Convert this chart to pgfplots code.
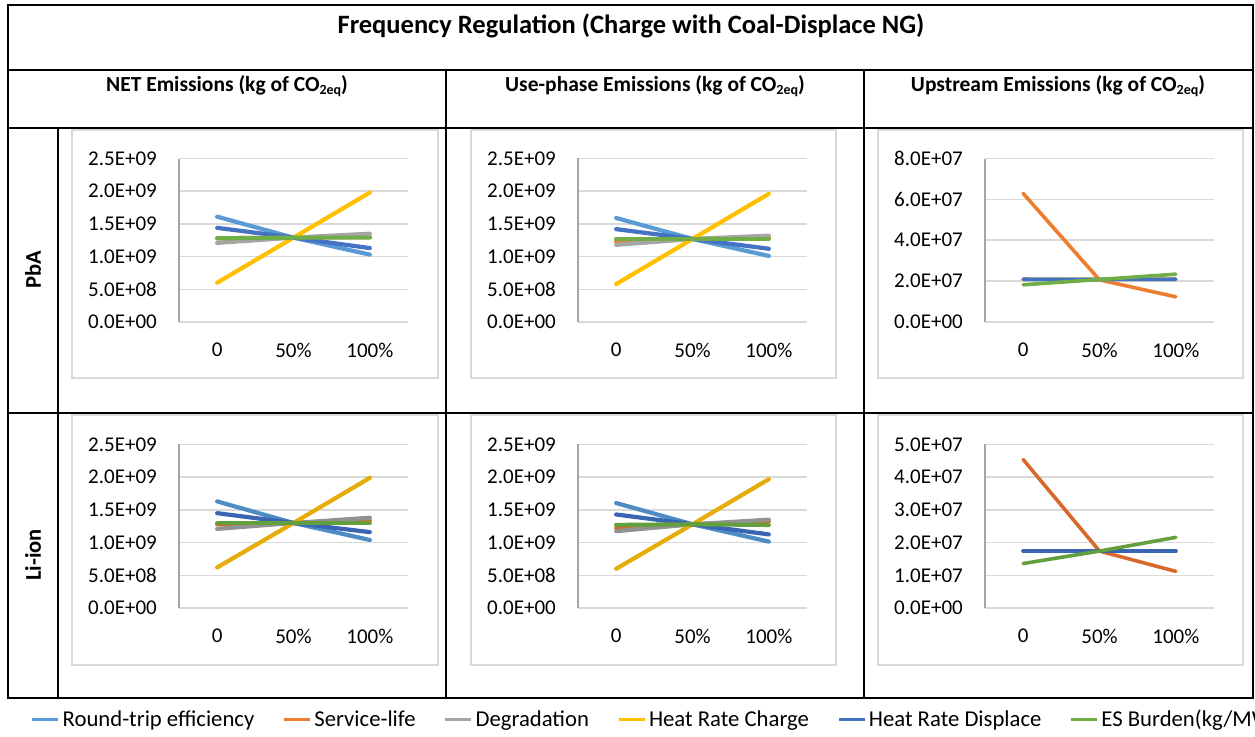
\documentclass[border=0pt]{standalone}
\usepackage{fontspec}
\setmainfont{Carlito}
\usepackage{pgfplots}
\usepackage{pgfplotstable}
\pgfplotsset{compat=1.18}

\definecolor{rtA}{HTML}{5B9BD5}
\definecolor{slA}{HTML}{ED7D31}
\definecolor{dgA}{HTML}{A5A5A5}
\definecolor{hcA}{HTML}{FFC000}
\definecolor{hdA}{HTML}{4472C4}
\definecolor{esA}{HTML}{70AD47}
\definecolor{rtB}{HTML}{4E8CC6}
\definecolor{slB}{HTML}{D8692A}
\definecolor{dgB}{HTML}{929292}
\definecolor{hcB}{HTML}{E5AC0A}
\definecolor{hdB}{HTML}{3A65B3}
\definecolor{esB}{HTML}{63A03D}
\definecolor{gridc}{HTML}{D9D9D9}
\definecolor{axisc}{HTML}{A6A6A6}
\definecolor{framec}{HTML}{D9D9D9}

% PbA, NET emissions (kg CO2eq)
\pgfplotstableread{
x rt sl dg hc hd es
0 1.61e9 1.28e9 1.21e9 0.60e9 1.44e9 1.28e9
1 1.29e9 1.29e9 1.29e9 1.29e9 1.29e9 1.29e9
2 1.03e9 1.30e9 1.35e9 1.98e9 1.13e9 1.29e9
}\pbanet
% PbA, use-phase emissions
\pgfplotstableread{
x rt sl dg hc hd es
0 1.59e9 1.23e9 1.18e9 0.58e9 1.42e9 1.27e9
1 1.27e9 1.27e9 1.27e9 1.27e9 1.27e9 1.27e9
2 1.01e9 1.29e9 1.32e9 1.96e9 1.12e9 1.27e9
}\pbause
% PbA, upstream emissions
\pgfplotstableread{
x rt sl dg hc hd es
0 2.09e7 6.29e7 2.09e7 2.09e7 2.09e7 1.82e7
1 2.08e7 2.06e7 2.08e7 2.08e7 2.08e7 2.08e7
2 2.09e7 1.23e7 2.09e7 2.09e7 2.09e7 2.34e7
}\pbaup
% Li-ion, NET emissions
\pgfplotstableread{
x rt sl dg hc hd es
0 1.63e9 1.28e9 1.21e9 0.62e9 1.45e9 1.30e9
1 1.30e9 1.30e9 1.30e9 1.30e9 1.30e9 1.30e9
2 1.04e9 1.34e9 1.38e9 1.99e9 1.16e9 1.30e9
}\linet
% Li-ion, use-phase emissions
\pgfplotstableread{
x rt sl dg hc hd es
0 1.605e9 1.225e9 1.175e9 0.60e9 1.43e9 1.27e9
1 1.28e9 1.28e9 1.28e9 1.28e9 1.28e9 1.28e9
2 1.015e9 1.325e9 1.35e9 1.97e9 1.125e9 1.27e9
}\liuse
% Li-ion, upstream emissions
\pgfplotstableread{
x rt sl dg hc hd es
0 1.74e7 4.54e7 1.74e7 1.74e7 1.74e7 1.36e7
1 1.74e7 1.74e7 1.74e7 1.74e7 1.74e7 1.74e7
2 1.74e7 1.12e7 1.74e7 1.74e7 1.74e7 2.16e7
}\liup

\newcommand{\sixplots}[2]{%
  \addplot[rt#2] table[x=x,y=rt]{#1};
  \addplot[sl#2] table[x=x,y=sl]{#1};
  \addplot[dg#2] table[x=x,y=dg]{#1};
  \addplot[hc#2] table[x=x,y=hc]{#1};
  \addplot[hd#2] table[x=x,y=hd]{#1};
  \addplot[es#2] table[x=x,y=es]{#1};
}

\pgfplotsset{
  panel/.style={
    scale only axis, width=229pt, height=163.5pt, anchor=south west,
    xmin=-0.5, xmax=2.5, xtick={0,1,2}, xticklabels={0,50\%,100\%},
    ymin=0, scaled y ticks=false,
    axis line style={draw=none},
    major tick length=0pt,
    ymajorgrids, grid style={color=gridc, line width=1.5pt},
    extra x ticks={-0.5}, extra x tick labels={},
    extra x tick style={grid=major, major grid style={color=axisc, line width=1.5pt}},
    tick label style={font=\fontsize{21}{24}\selectfont, inner sep=0pt},
    yticklabel shift=22pt, xticklabel shift=21pt,
    clip=false,
    every axis plot/.append style={line width=4.2pt, line cap=round, mark=none},
  },
  bigy/.style={ymax=2.5e9, ytick={0,5e8,1e9,1.5e9,2e9,2.5e9},
    yticklabels={0.0E+00,5.0E+08,1.0E+09,1.5E+09,2.0E+09,2.5E+09}},
}

\begin{document}
\begin{tikzpicture}[x=1pt,y=1pt]
\path[use as bounding box] (0,0) rectangle (1255,736);

% chart frames
\foreach \xa/\xb in {72/438, 471/836, 878/1243}{
  \draw[framec, line width=1.5pt] (\xa,358) rectangle (\xb,606);
  \draw[framec, line width=1.5pt] (\xa,71) rectangle (\xb,321);
}

% PbA NET
\begin{axis}[panel, bigy, at={(179pt,414pt)},
  legend columns=6,
  legend style={at={(axis description cs:-0.6463,-2.428)}, anchor=west,
    draw=none, fill=none, inner sep=0pt,
    font=\fontsize{22.7}{26}\selectfont,
    nodes={inner sep=0pt},
    /tikz/every odd column/.append style={column sep=3pt},
    /tikz/every even column/.append style={column sep=28.5pt}},
  legend image code/.code={\draw[#1, line width=2.5pt, line cap=butt] (0pt,-0.5pt) -- (26pt,-0.5pt);},
  legend entries={Round-trip efficiency, Service-life, Degradation, Heat Rate Charge, Heat Rate Displace, ES Burden(kg/MWh)},
]
\sixplots{\pbanet}{A}
\end{axis}

% PbA use-phase
\begin{axis}[panel, bigy, at={(578pt,414pt)}]
\sixplots{\pbause}{A}
\end{axis}

% PbA upstream
\begin{axis}[panel, at={(985pt,414pt)}, ymax=8e7, ytick={0,2e7,4e7,6e7,8e7},
  yticklabels={0.0E+00,2.0E+07,4.0E+07,6.0E+07,8.0E+07},
  every axis plot/.append style={line width=3.6pt}]
\sixplots{\pbaup}{A}
\end{axis}

% Li-ion NET
\begin{axis}[panel, bigy, at={(179pt,128pt)}]
\sixplots{\linet}{B}
\end{axis}

% Li-ion use-phase
\begin{axis}[panel, bigy, at={(578pt,128pt)}]
\sixplots{\liuse}{B}
\end{axis}

% Li-ion upstream
\begin{axis}[panel, at={(985pt,128pt)}, ymax=5e7, ytick={0,1e7,2e7,3e7,4e7,5e7},
  yticklabels={0.0E+00,1.0E+07,2.0E+07,3.0E+07,4.0E+07,5.0E+07},
  every axis plot/.append style={line width=3.6pt}]
\sixplots{\liup}{B}
\end{axis}

% table lines
\draw[line width=2pt] (8,38) rectangle (1253,731);
\draw[line width=2pt] (8,666) -- (1253,666);
\draw[line width=2pt] (8,608) -- (1253,608);
\draw[line width=2pt] (8,323) -- (1253,323);
\draw[line width=2pt] (58,608) -- (58,38);
\draw[line width=2pt] (446,666) -- (446,38);
\draw[line width=2pt] (864,666) -- (864,38);

% texts
\node[font=\bfseries\fontsize{26.5}{30}\selectfont] at (631,710) {Frequency Regulation (Charge with Coal-Displace NG)};
\node[font=\bfseries\fontsize{21.5}{25}\selectfont] at (227,650) {NET Emissions (kg of CO\raisebox{-3pt}{\fontsize{14}{16}\selectfont 2eq})};
\node[font=\bfseries\fontsize{21.5}{25}\selectfont] at (655,650) {Use-phase Emissions (kg of CO\raisebox{-3pt}{\fontsize{14}{16}\selectfont 2eq})};
\node[font=\bfseries\fontsize{21.5}{25}\selectfont] at (1058,650) {Upstream Emissions (kg of CO\raisebox{-3pt}{\fontsize{14}{16}\selectfont 2eq})};
\node[rotate=90, font=\bfseries\fontsize{22.5}{26}\selectfont] at (33,466) {PbA};
\node[rotate=90, font=\bfseries\fontsize{22.5}{26}\selectfont] at (33,181) {Li-ion};
\end{tikzpicture}
\end{document}
